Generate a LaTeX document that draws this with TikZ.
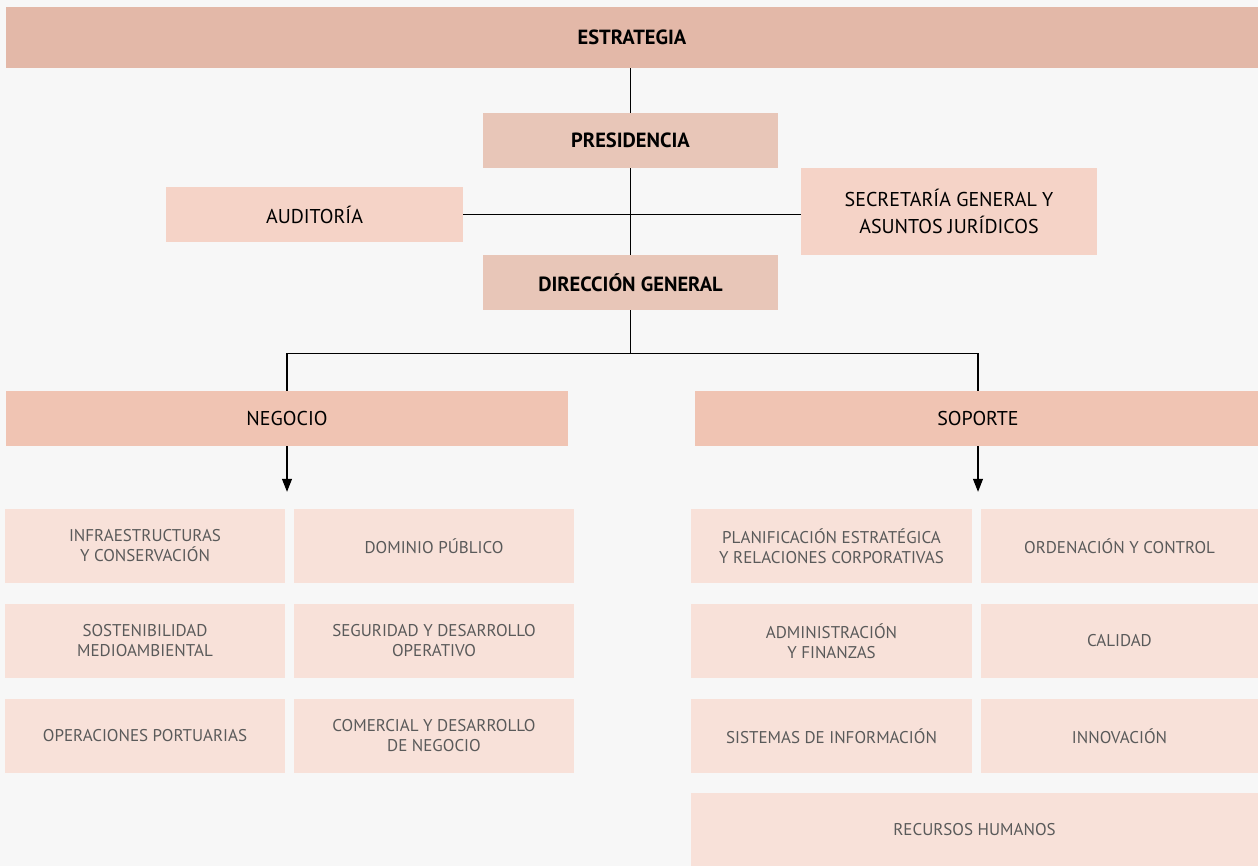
\documentclass[tikz,border=0pt]{standalone}
\usepackage{fontspec}
\setmainfont{PT Sans}
\usepackage{tikz}
\usetikzlibrary{arrows.meta}

\definecolor{fondo}{HTML}{F7F7F7}
\definecolor{cEstrategia}{HTML}{E3B8A8}
\definecolor{cDireccion}{HTML}{E8C6B8}
\definecolor{cApoyo}{HTML}{F5D3C7}
\definecolor{cArea}{HTML}{F0C4B3}
\definecolor{cUnidad}{HTML}{F8E1D9}
\definecolor{cTexto}{HTML}{5A5A5A}

\tikzset{
  caja/.style={inner sep=2pt, align=center, font=\fontsize{20}{27}\selectfont},
  cajaTop/.style={caja, fill=cEstrategia, font=\fontsize{20.5}{24}\selectfont\bfseries},
  cajaDir/.style={caja, fill=cDireccion, minimum width=295pt, minimum height=55pt, font=\fontsize{20.5}{24}\selectfont\bfseries},
  cajaApoyo/.style={caja, fill=cApoyo, minimum width=297pt},
  cajaArea/.style={caja, fill=cArea, minimum height=55pt},
  unidad/.style={caja, fill=cUnidad, text=cTexto, minimum height=74pt, font=\fontsize{17}{20}\selectfont},
  linea/.style={line width=1.1pt, black},
  flecha/.style={linea, -{Triangle[length=13pt,width=10pt]}}
}

\begin{document}
\begin{tikzpicture}[x=1pt, y=-1pt]
    \fill[fondo] (0,0) rectangle (1258,866);
    \useasboundingbox (0,0) rectangle (1258,866);

    % cabecera
    \node[cajaTop, minimum width=1252pt, minimum height=61pt] (estrategia) at (632,37.5) {ESTRATEGIA};
    \node[cajaDir] (presidencia) at (630.5,140.5) {PRESIDENCIA};
    \node[cajaApoyo, minimum height=55pt] (auditoria) at (314.5,214.5) {AUDITORÍA};
    \node[cajaApoyo, minimum width=296pt, minimum height=87pt] (secretaria) at (949,211.5) {SECRETARÍA GENERAL Y\\ASUNTOS JURÍDICOS};
    \node[cajaDir] (direccion) at (630.5,282.5) {DIRECCIÓN GENERAL};

    % areas
    \node[cajaArea, minimum width=562pt] (negocio) at (287,418.5) {NEGOCIO};
    \node[cajaArea, minimum width=566pt] (soporte) at (978,418.5) {SOPORTE};

    % negocio
    \node[unidad, minimum width=280pt] (infra) at (145,546) {INFRAESTRUCTURAS\\Y CONSERVACIÓN};
    \node[unidad, minimum width=280pt] (dominio) at (434,546) {DOMINIO PÚBLICO};
    \node[unidad, minimum width=280pt] (sosten) at (145,641) {SOSTENIBILIDAD\\MEDIOAMBIENTAL};
    \node[unidad, minimum width=280pt] (seguridad) at (434,641) {SEGURIDAD Y DESARROLLO\\OPERATIVO};
    \node[unidad, minimum width=280pt] (operaciones) at (145,736) {OPERACIONES PORTUARIAS};
    \node[unidad, minimum width=280pt] (comercial) at (434,736) {COMERCIAL Y DESARROLLO\\DE NEGOCIO};

    % soporte
    \node[unidad, minimum width=281pt] (planif) at (831.5,546) {PLANIFICACIÓN ESTRATÉGICA\\Y RELACIONES CORPORATIVAS};
    \node[unidad, minimum width=277pt] (ordenacion) at (1119.5,546) {ORDENACIÓN Y CONTROL};
    \node[unidad, minimum width=281pt] (admin) at (831.5,641) {ADMINISTRACIÓN\\Y FINANZAS};
    \node[unidad, minimum width=277pt] (calidad) at (1119.5,641) {CALIDAD};
    \node[unidad, minimum width=281pt] (sistemas) at (831.5,736) {SISTEMAS DE INFORMACIÓN};
    \node[unidad, minimum width=277pt] (innovacion) at (1119.5,736) {INNOVACIÓN};
    \node[unidad, minimum width=567pt] (rrhh) at (974.5,830) {RECURSOS HUMANOS};

    % conexiones
    \draw[linea] (presidencia.north) -- (presidencia.north |- estrategia.south);
    \draw[linea] (presidencia.south) -- (direccion.north);
    \draw[linea] (auditoria.east) -- (auditoria.east -| secretaria.west);
    \coordinate (reparto) at ([yshift=-43pt]direccion.south);
    \draw[linea] (direccion.south) -- (reparto) -| (negocio.north);
    \draw[linea] (reparto) -| (soporte.north);
    \coordinate (finNegocio) at ([yshift=17pt]infra.north -| negocio.south);
    \coordinate (finSoporte) at ([yshift=17pt]planif.north -| soporte.south);
    \draw[flecha] (negocio.south) -- (finNegocio);
    \draw[flecha] (soporte.south) -- (finSoporte);
\end{tikzpicture}
\end{document}
